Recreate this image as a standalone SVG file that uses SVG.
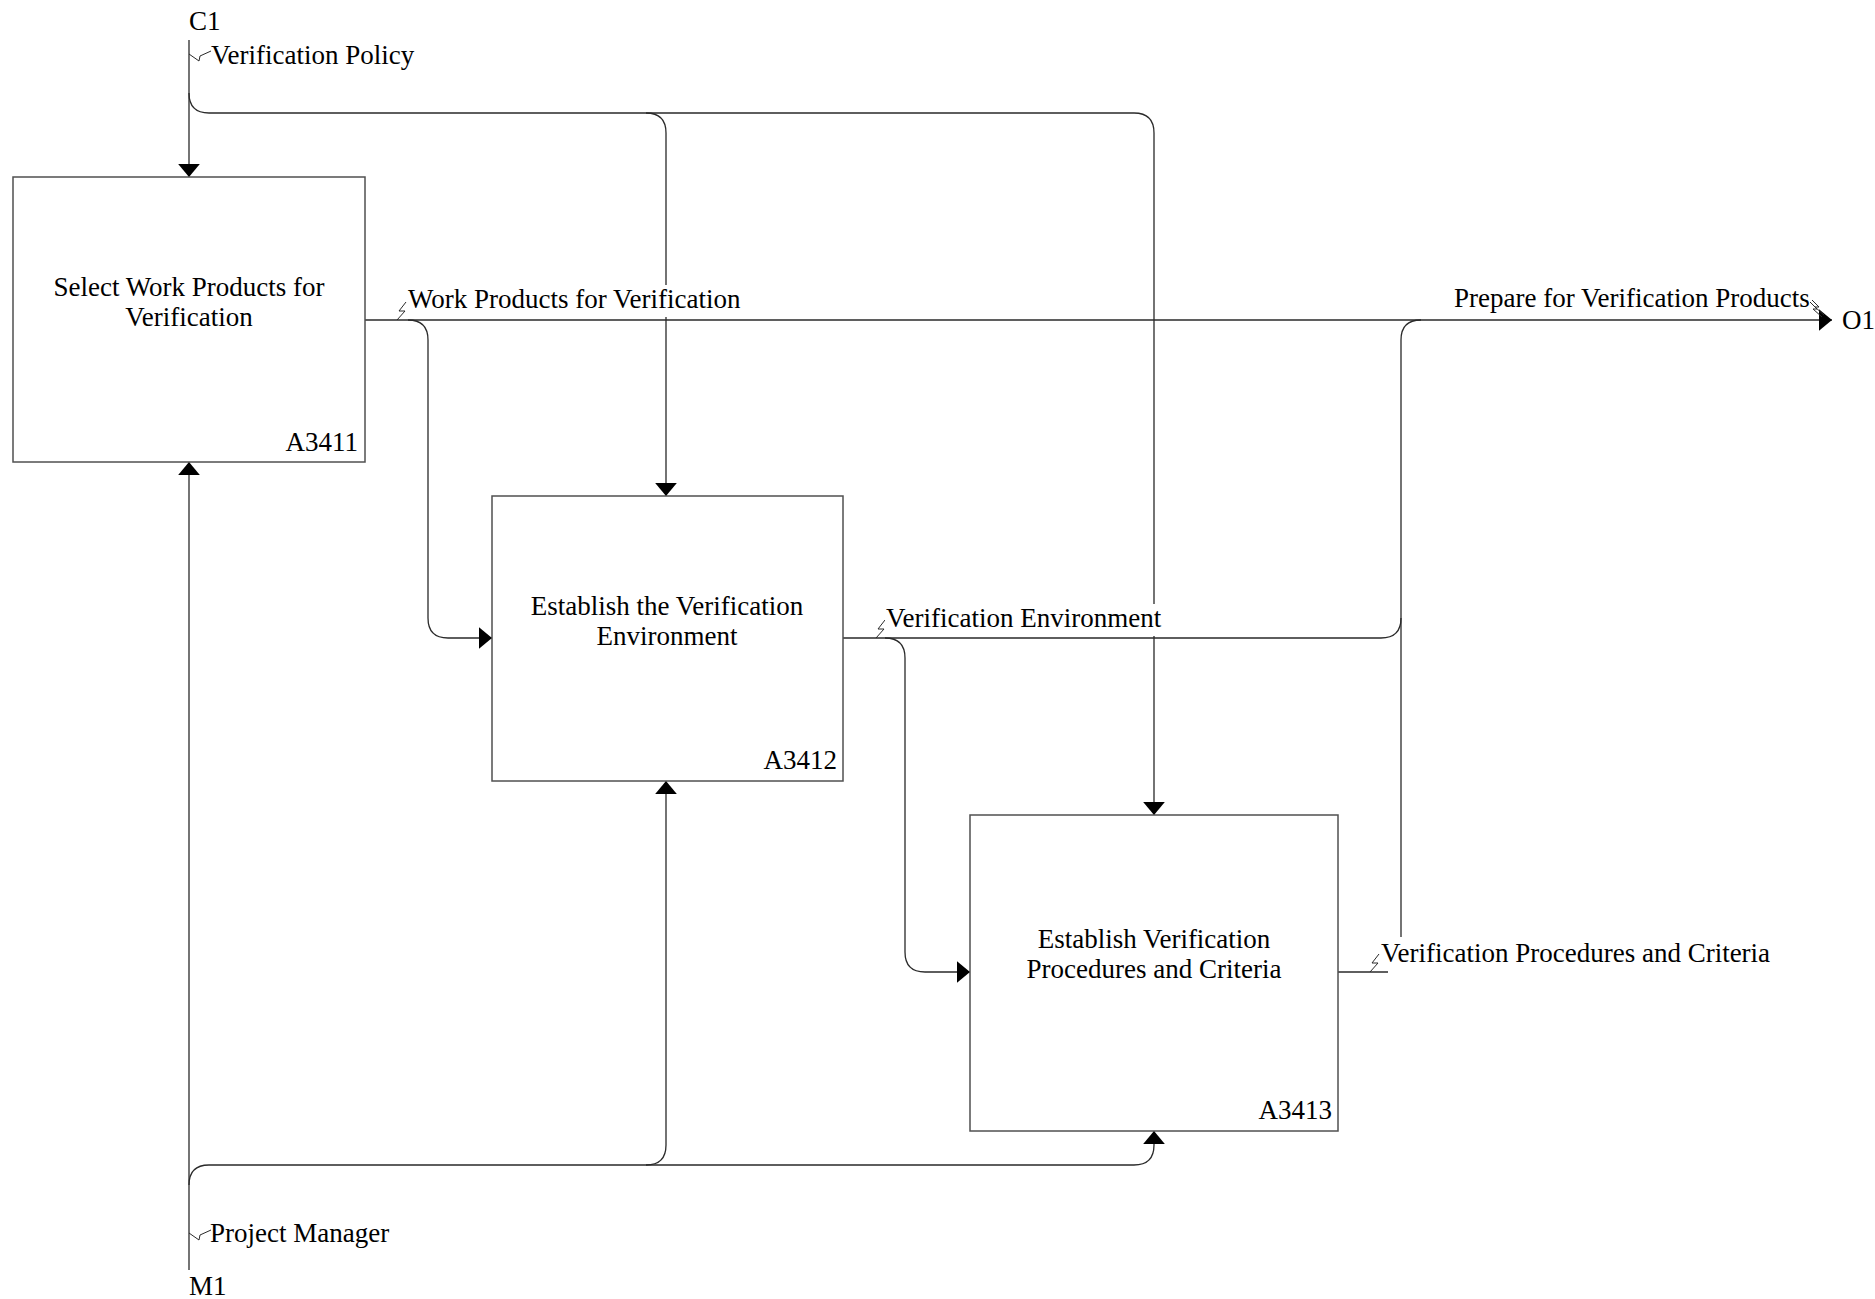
<svg xmlns="http://www.w3.org/2000/svg" width="1875" height="1299" viewBox="0 0 1875 1299">
<style>
.box{fill:#fff;stroke:#505050;stroke-width:1.5}
.ln{fill:none;stroke:#2a2a2a;stroke-width:1.3}
.sq{fill:none;stroke:#2a2a2a;stroke-width:1}
.t{font-family:"Liberation Serif","Times New Roman",serif;font-size:27px;fill:#000}
.c{text-anchor:middle}
.r{text-anchor:end}
.mask{fill:#fff}
</style>
<defs>
<marker id="ah" viewBox="0 0 12 20" refX="12" refY="10" markerWidth="13" markerHeight="22" markerUnits="userSpaceOnUse" orient="auto"><path d="M0,0 L12,10 L0,20 z" fill="#000"/></marker>
</defs>
<rect width="1875" height="1299" fill="#fff"/>
<g id="connectors">
<path class="ln" d="M189 40 V177" marker-end="url(#ah)"/>
<path class="ln" d="M189 93 Q189 113 209 113 H1134 Q1154 113 1154 133 V815" marker-end="url(#ah)"/>
<path class="ln" d="M646 113 Q666 113 666 133 V496" marker-end="url(#ah)"/>
<path class="ln" d="M365 320 H1832" marker-end="url(#ah)"/>
<path class="ln" d="M408 320 Q428 320 428 340 V618 Q428 638 448 638 H492" marker-end="url(#ah)"/>
<path class="ln" d="M843 638 H1381 Q1401 638 1401 618 V340 Q1401 320 1421 320"/>
<path class="ln" d="M1401 618 V937"/>
<path class="ln" d="M885 638 Q905 638 905 658 V952 Q905 972 925 972 H970" marker-end="url(#ah)"/>
<path class="ln" d="M1338 972 H1388"/>
<path class="ln" d="M189 1270 V462" marker-end="url(#ah)"/>
<path class="ln" d="M189 1185 Q189 1165 209 1165 H1134 Q1154 1165 1154 1145 V1131" marker-end="url(#ah)"/>
<path class="ln" d="M646 1165 Q666 1165 666 1145 V781" marker-end="url(#ah)"/>
<path class="sq" d="M189 54 L199 61 L200 56 L211 51"/>
<path class="sq" d="M189 1233 L199 1240 L200 1235 L211 1230"/>
<path class="sq" d="M397 320 L405 311 L399 311 L406 302"/>
<path class="sq" d="M876 638 L884 629 L878 629 L885 620"/>
<path class="sq" d="M1370 972 L1378 963 L1372 963 L1379 954"/>
<path class="sq" d="M1810 302 L1817 309 L1813 309 L1822 317"/>
<path class="sq" d="M1812 300 L1819 307 L1815 307 L1824 315"/>
</g>
<g id="labels">
<rect class="mask" x="407" y="285" width="342" height="32"/>
<rect class="mask" x="885" y="604" width="278" height="32"/>
<text class="t" x="189" y="30">C1</text>
<text class="t" x="211" y="64">Verification Policy</text>
<text class="t" x="408" y="308">Work Products for Verification</text>
<text class="t" x="1454" y="307">Prepare for Verification Products</text>
<text class="t" x="1842" y="329">O1</text>
<text class="t" x="886" y="627">Verification Environment</text>
<text class="t" x="1381" y="962">Verification Procedures and Criteria</text>
<text class="t" x="210" y="1242">Project Manager</text>
<text class="t" x="189" y="1295">M1</text>
</g>
<g id="A3411">
<rect class="box" x="13" y="177" width="352" height="285"/>
<text class="t c" x="189" y="296">Select Work Products for</text>
<text class="t c" x="189" y="326">Verification</text>
<text class="t r" x="358" y="451">A3411</text>
</g>
<g id="A3412">
<rect class="box" x="492" y="496" width="351" height="285"/>
<text class="t c" x="667" y="615">Establish the Verification</text>
<text class="t c" x="667" y="645">Environment</text>
<text class="t r" x="837" y="769">A3412</text>
</g>
<g id="A3413">
<rect class="box" x="970" y="815" width="368" height="316"/>
<text class="t c" x="1154" y="948">Establish Verification</text>
<text class="t c" x="1154" y="978">Procedures and Criteria</text>
<text class="t r" x="1332" y="1119">A3413</text>
</g>
</svg>
